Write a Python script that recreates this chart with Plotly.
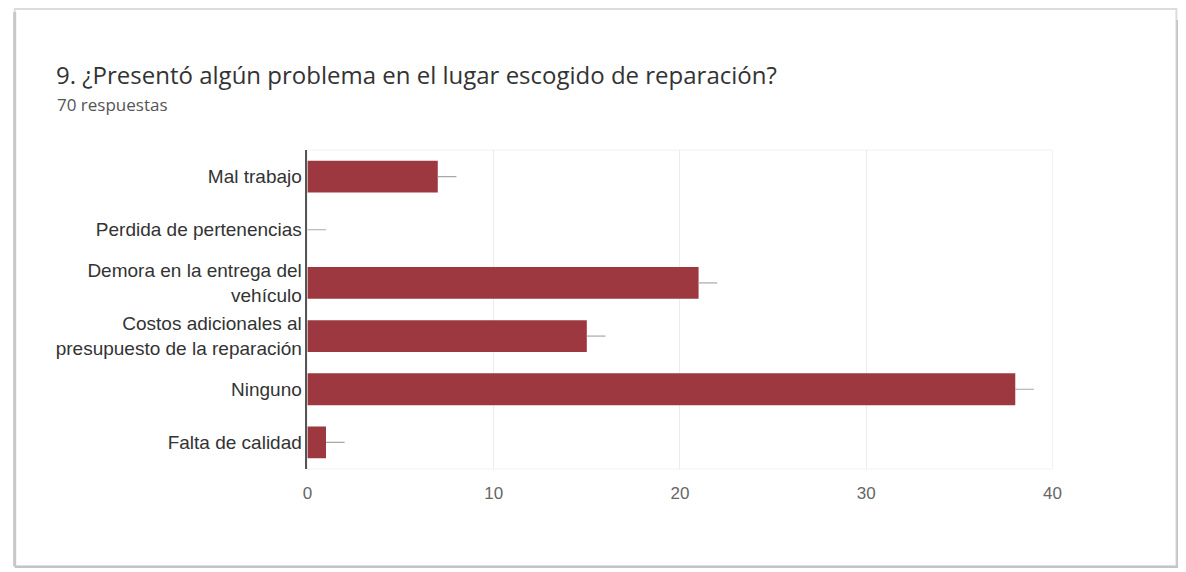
import plotly.graph_objects as go

categories = [
    "Mal trabajo",
    "Perdida de pertenencias",
    "Demora en la entrega del<br>vehículo",
    "Costos adicionales al<br>presupuesto de la reparación",
    "Ninguno",
    "Falta de calidad",
]
values = [7, 0, 21, 15, 38, 1]
whisker = [1, 1, 1, 1, 1, 1]
x_ticks = [0, 10, 20, 30, 40]

# mapping from target-picture pixels to paper coordinates (measured page offset/scale)
X_OFF, X_SCALE, Y_OFF = 11.3, 0.9893, 8
W, H = 1186, 564

def px(x):
    return ((x - X_OFF) / X_SCALE) / W

def py(y):
    return 1 - (y - Y_OFF) / H

fig = go.Figure()
fig.add_trace(go.Bar(
    x=values,
    y=categories,
    orientation="h",
    marker=dict(color="#9d3840", line=dict(width=0)),
    width=0.6,
    error_x=dict(type="data", symmetric=False, array=whisker,
                 arrayminus=[0] * len(values), color="#a8a8a8",
                 thickness=1.2, width=0),
    hoverinfo="x+y",
))

shapes = [
    # card
    dict(type="rect", xref="paper", yref="paper",
         x0=px(13), x1=px(1176), y0=py(566), y1=py(9),
         line=dict(color="#dcdcdc", width=2), fillcolor="rgba(0,0,0,0)", layer="below"),
    dict(type="line", xref="paper", yref="paper",
         x0=px(1177), x1=px(1177), y0=py(567), y1=py(20),
         line=dict(color="#c4c4c4", width=2)),
    dict(type="line", xref="paper", yref="paper",
         x0=px(13), x1=px(1178), y0=py(567), y1=py(567),
         line=dict(color="#c4c4c4", width=2)),
    dict(type="line", xref="paper", yref="paper",
         x0=px(13), x1=px(13), y0=py(566), y1=py(12),
         line=dict(color="#c8c8c8", width=3)),
    # faint plot frame
    dict(type="rect", xref="paper", yref="paper",
         x0=px(306), x1=px(1052), y0=py(469), y1=py(150),
         line=dict(color="#f2f2f2", width=1), fillcolor="rgba(0,0,0,0)", layer="below"),
]

fig.update_layout(
    width=W, height=H,
    margin=dict(l=0, r=0, t=0, b=0),
    paper_bgcolor="white",
    plot_bgcolor="white",
    showlegend=False,
    bargap=0.4,
    font=dict(family="Liberation Sans, Arial, sans-serif", color="#444444"),
    shapes=shapes,
    annotations=[
        dict(text="9. ¿Presentó algún problema en el lugar escogido de reparación?",
             xref="paper", yref="paper", x=px(52), y=py(75), xanchor="left", yanchor="middle",
             showarrow=False, font=dict(family="Open Sans, sans-serif", size=24, color="#333333")),
        dict(text="70 respuestas",
             xref="paper", yref="paper", x=px(53), y=py(104), xanchor="left", yanchor="middle",
             showarrow=False, font=dict(family="Open Sans, sans-serif", size=17, color="#555555")),
    ],
    xaxis=dict(
        domain=[px(306), px(1052)],
        range=[0, 40],
        tickvals=x_ticks,
        ticktext=[str(t) for t in x_ticks],
        showgrid=True, gridcolor="#ececec", gridwidth=1,
        zeroline=False, showline=False,
        ticks="", tickfont=dict(size=17, color="#666666"),
        ticklabelstandoff=12,
        fixedrange=True,
    ),
    yaxis=dict(
        domain=[py(469), py(150)],
        autorange="reversed",
        showgrid=False, zeroline=False,
        showline=True, linecolor="#555555", linewidth=1.5,
        ticks="", tickfont=dict(size=19, color="#333333"),
        ticklabelstandoff=0,
        fixedrange=True,
    ),
)

fig.write_html("out.html")
